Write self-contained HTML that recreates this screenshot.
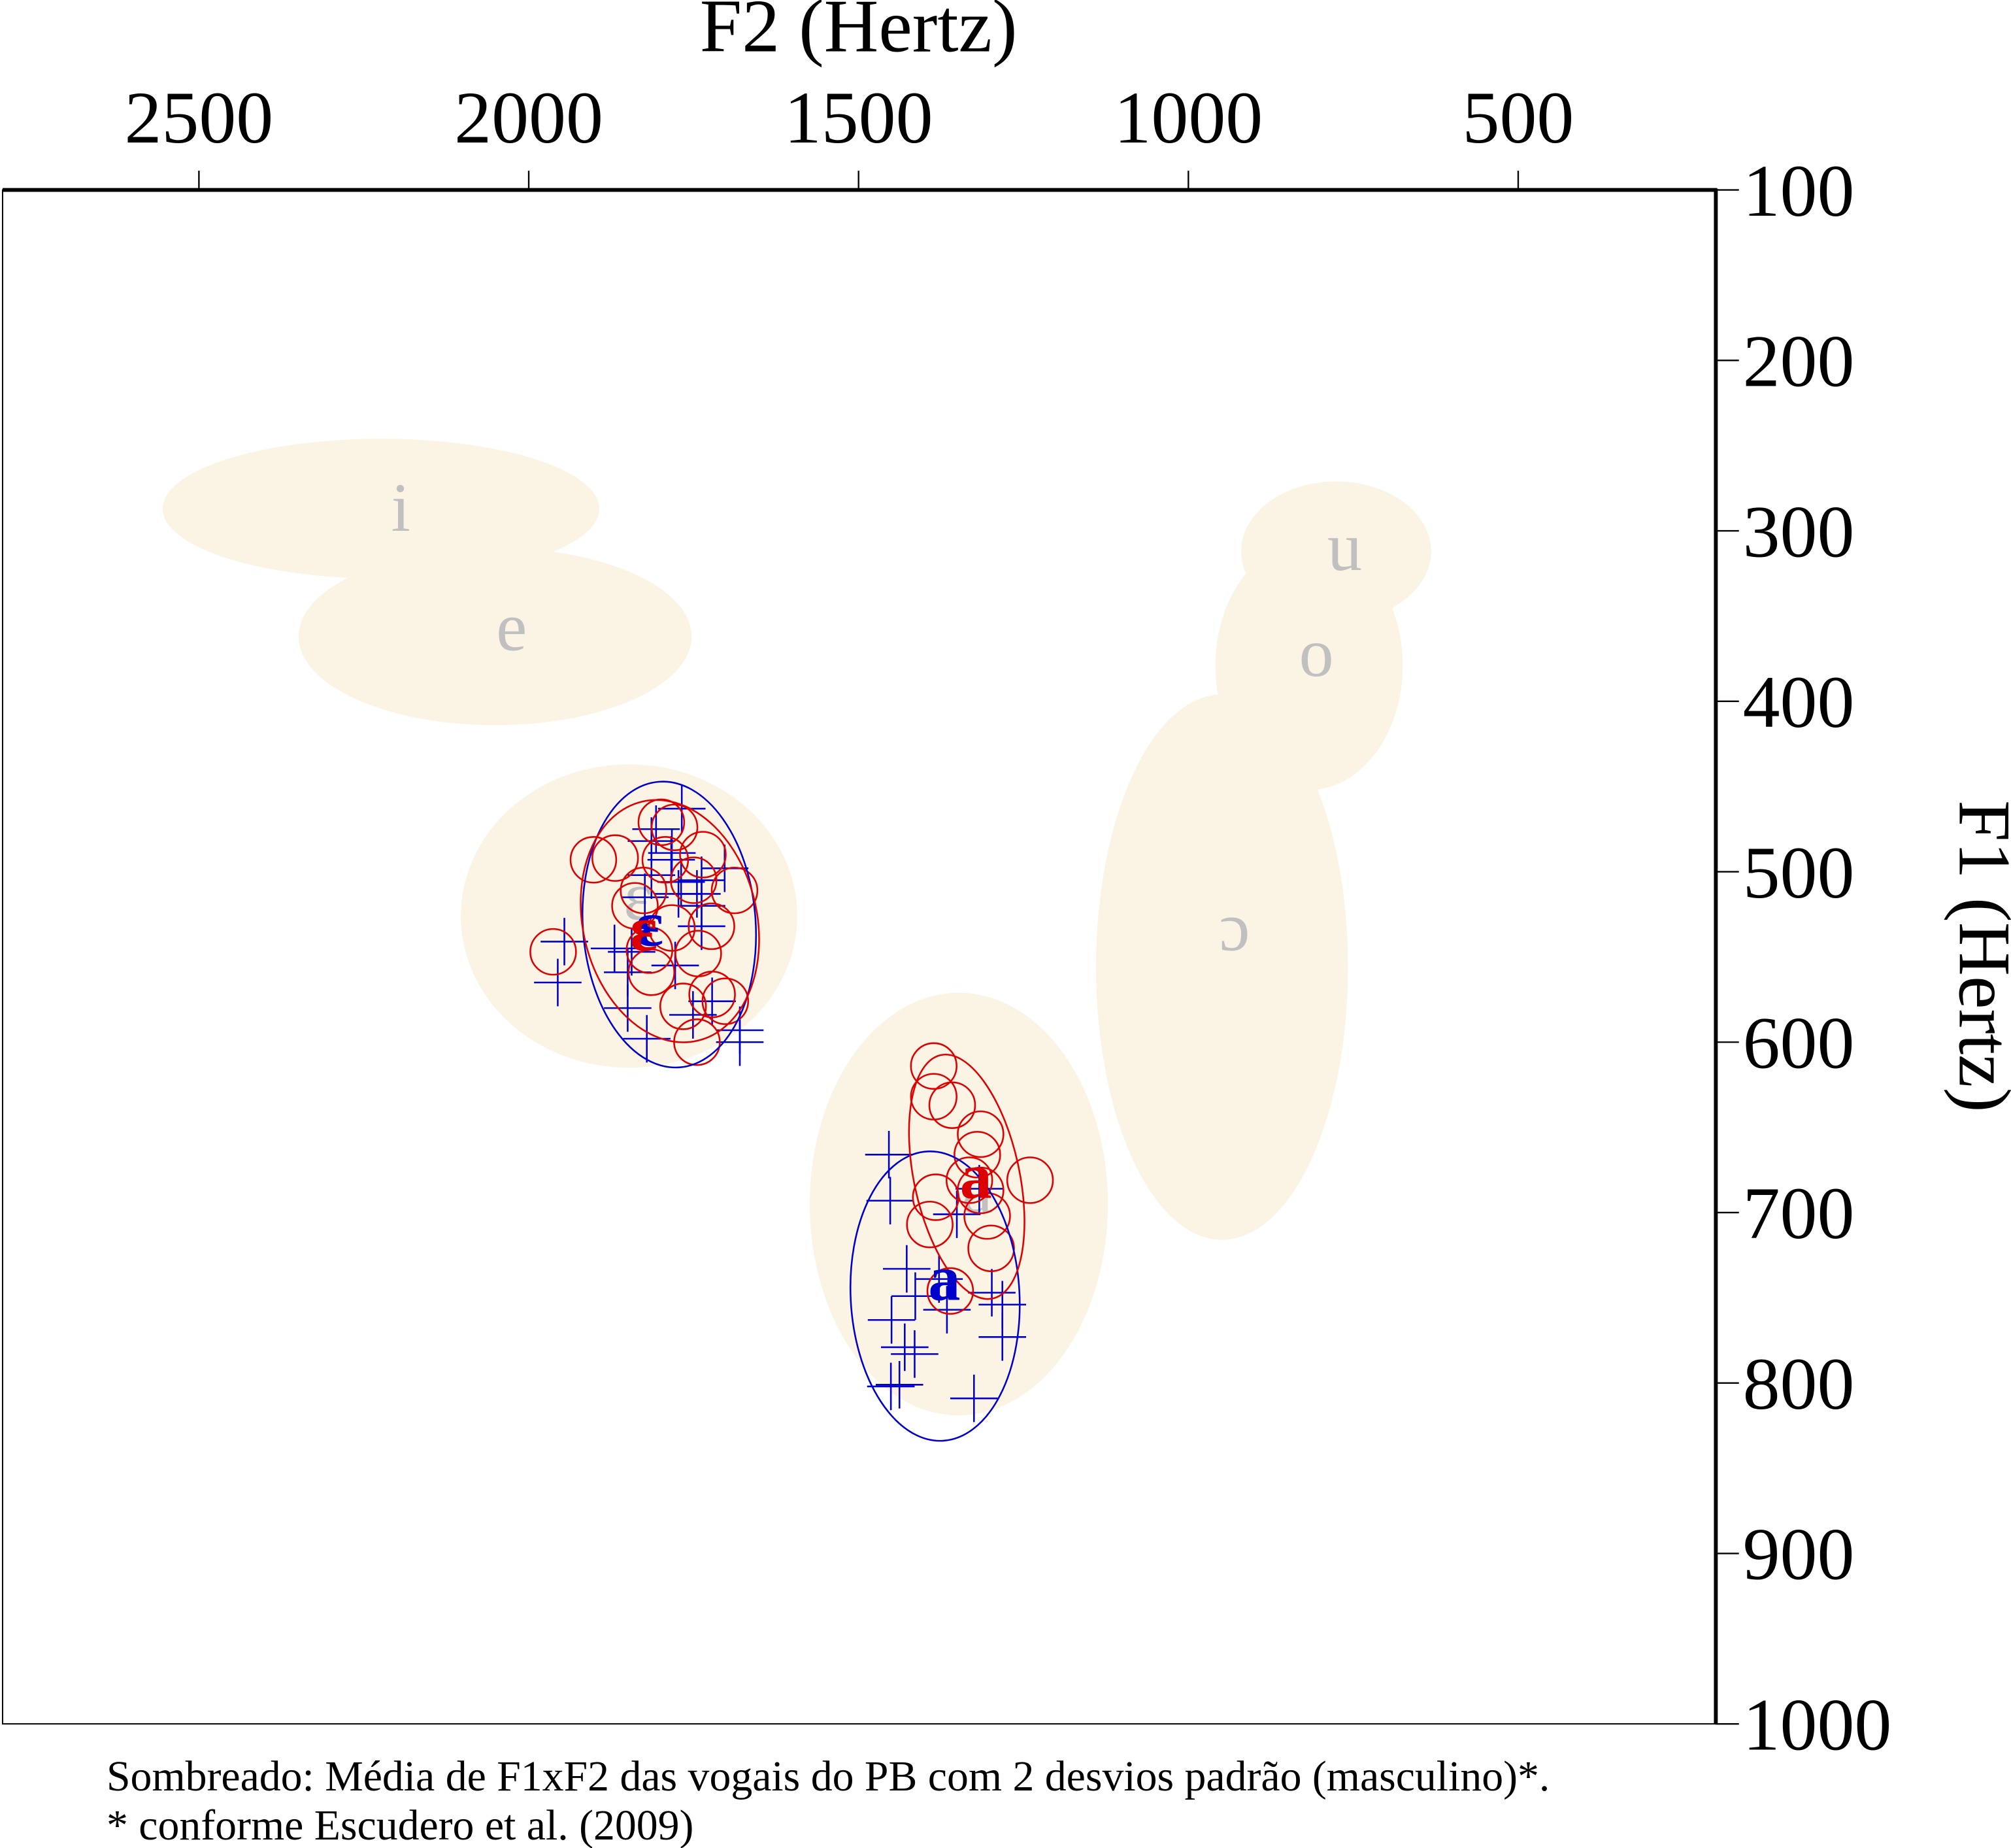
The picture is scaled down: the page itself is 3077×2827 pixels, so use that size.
<!DOCTYPE html>
<html><head><meta charset="utf-8"><style>
html,body{margin:0;padding:0;background:#fff;}
svg{display:block;}
</style></head><body>
<svg id="chart" xmlns="http://www.w3.org/2000/svg" width="3077" height="2827" viewBox="0 0 1567 1439.7" font-family="'Liberation Serif', serif">
<rect x="0" y="0" width="1567" height="1440" fill="#fff"/>
<g id="shade"></g>
<g id="shadeLabels"></g>
<g id="series"></g>
<g id="axes"></g>
<text x="669" y="40" font-size="59" text-anchor="middle">F2 (Hertz)</text>
<text transform="translate(1527,745) rotate(90)" font-size="58" text-anchor="middle">F1 (Hertz)</text>
<text x="83" y="1395" font-size="33.5">Sombreado: Média de F1xF2 das vogais do PB com 2 desvios padrão (masculino)*.</text>
<text x="83" y="1433" font-size="33.5">* conforme Escudero et al. (2009)</text>
</svg>
<script>
// Axis domains
const xTicks = [2500, 2000, 1500, 1000, 500];
const yTicks = [100, 200, 300, 400, 500, 600, 700, 800, 900, 1000];
// Shaded reference ellipses (Hz): centre F2, centre F1, radius F2, radius F1
const shadeVowels = ['i', 'e', 'ɛ', 'a', 'ɔ', 'o', 'u'];
const shadeF2 = [2224, 2051, 1848, 1348, 949, 817, 776];
const shadeF1 = [287, 362, 526, 695, 556, 379, 312];
const shadeRF2 = [331, 298, 255, 226, 191, 142, 144];
const shadeRF1 = [41, 52, 89, 124, 160, 73, 41];
const shadeLabelF2 = [2194, 2026, 1834, 1320, 930, 806, 763];
const shadeLabelF1 = [288, 358, 516, 688, 534, 373, 311];
// Series 1 (blue crosses)
const blueEpsF2 = [1768,1807,1814,1783,1784,1703,1738,1769,1814,1773,1745,1824,1738,1738,1946,1870,1844,1778,1850,1956,1850,1751,1722,1680,1680,1821];
const blueEpsF1 = [463,475,482,489,493,498,505,506,502,513,513,515,520,532,541,545,547,555,559,565,580,584,576,593,600,598];
const blueAF2 = [1454,1452,1351,1317,1427,1378,1414,1450,1366,1298,1282,1282,1430,1415,1451,1438,1325];
const blueAF1 = [666,693,701,686,733,739,749,763,757,747,754,773,779,783,802,801,809];
// Series 2 (red circles)
const redEpsF2 = [1799,1779,1902,1869,1793,1736,1750,1826,1688,1839,1963,1783,1723,1817,1743,1814,1766,1722,1702,1745];
const redEpsF1 = [471,474,493,492,493,490,505,511,511,520,547,533,532,546,548,559,579,572,576,600];
const redAF2 = [1386,1386,1358,1315,1320,1332,1315,1240,1383,1392,1305,1299,1361];
const redAF1 = [614,632,637,654,666,681,687,681,691,707,702,721,746];
// Group ellipses
const ellNames = ['blue-eps-ellipse','red-eps-ellipse','blue-a-ellipse','red-a-ellipse'];
const ellF2 = [1787, 1786, 1384, 1336];
const ellF1 = [531, 529, 749, 679];
const ellRF2 = [131, 132, 128, 80];
const ellRF1 = [84, 72, 85, 73];
const ellAngle = [-4, -13, -3, -12];
// Group mean labels
const meanLabels = ['ɛ', 'ɛ', 'a', 'a'];
const meanF2 = [1817, 1826, 1370, 1322];
const meanF1 = [532, 535, 740, 680];

const NS = 'http://www.w3.org/2000/svg';
const BLUE = '#0000cc', RED = '#dd0000';
const X = f => 155 + (2500 - f) * 0.514;
const Y = f => 148 + (f - 100) * 1.3278;
function mk(tag, attrs, parent) {
  const el = document.createElementNS(NS, tag);
  for (const k in attrs) el.setAttribute(k, attrs[k]);
  parent.appendChild(el);
  return el;
}
const shade = document.getElementById('shade');
const shadeLabels = document.getElementById('shadeLabels');
const series = document.getElementById('series');
const axes = document.getElementById('axes');

for (let i = 0; i < shadeVowels.length; i++) {
  const e = mk('ellipse', {cx: X(shadeF2[i]), cy: Y(shadeF1[i]), rx: shadeRF2[i]*0.514, ry: shadeRF1[i]*1.3278, fill: '#fbf3e4'}, shade);
  
  
}
for (let i = 0; i < shadeVowels.length; i++) {
  const t = mk('text', {x: X(shadeLabelF2[i]), y: Y(shadeLabelF1[i]) + 16, 'font-size': 54, fill: '#c0c0c0', 'text-anchor': 'middle'}, shadeLabels);
  t.textContent = shadeVowels[i];
  
  
}
function crosses(f2, f1, name) {
  const g = mk('g', {stroke: BLUE, 'stroke-width': 1.3}, series);
  
  
  for (let i = 0; i < f2.length; i++) {
    const x = X(f2[i]), y = Y(f1[i]);
    const p = mk('path', {d: `M${x-18.5} ${y}H${x+18.5}M${x} ${y-18.5}V${y+18.5}`}, g);
    
    
  }
}
function circles(f2, f1, name) {
  const g = mk('g', {stroke: RED, 'stroke-width': 1.3, fill: 'none'}, series);
  
  
  for (let i = 0; i < f2.length; i++) {
    const c = mk('circle', {cx: X(f2[i]), cy: Y(f1[i]), r: 17.8}, g);
    
    
  }
}
crosses(blueEpsF2, blueEpsF1, 'blue-eps-crosses');
crosses(blueAF2, blueAF1, 'blue-a-crosses');
circles(redEpsF2, redEpsF1, 'red-eps-circles');
circles(redAF2, redAF1, 'red-a-circles');
for (let i = 0; i < ellF2.length; i++) {
  const cx = X(ellF2[i]), cy = Y(ellF1[i]);
  const e = mk('ellipse', {cx: cx, cy: cy, rx: ellRF2[i]*0.514, ry: ellRF1[i]*1.3278, fill: 'none', stroke: i % 2 === 0 ? BLUE : RED, 'stroke-width': 1.3, transform: `rotate(${ellAngle[i]} ${cx} ${cy})`}, series);
  
  
}
for (let i = 0; i < meanLabels.length; i++) {
  const t = mk('text', {x: X(meanF2[i]), y: Y(meanF1[i]) + 15, 'font-size': 50, fill: (i % 2 === 0 ? BLUE : RED), 'text-anchor': 'middle', 'font-weight': 'bold'}, series);
  t.textContent = meanLabels[i];
  
  
}
const fr = mk('rect', {x: 2, y: 148, width: 1335, height: 1195, fill: 'none', stroke: '#000', 'stroke-width': 1}, axes);


const ta = mk('line', {x1: 2, y1: 148, x2: 1338, y2: 148, stroke: '#000', 'stroke-width': 3}, axes);


const ra = mk('line', {x1: 1337, y1: 147, x2: 1337, y2: 1343, stroke: '#000', 'stroke-width': 3}, axes);


for (const t of xTicks) {
  const x = X(t);
  const l = mk('line', {x1: x, y1: 133, x2: x, y2: 148, stroke: '#000', 'stroke-width': 1.2}, axes);
  
  
  const tx = mk('text', {x: x, y: 111, 'font-size': 58, 'text-anchor': 'middle'}, axes);
  tx.textContent = t;
  
  
}
for (const t of yTicks) {
  const y = Y(t);
  const l = mk('line', {x1: 1337, y1: y, x2: 1355, y2: y, stroke: '#000', 'stroke-width': 1.2}, axes);
  
  
  const tx = mk('text', {x: 1358, y: y + 20, 'font-size': 58}, axes);
  tx.textContent = t;
  
  
}
</script>
</body></html>
